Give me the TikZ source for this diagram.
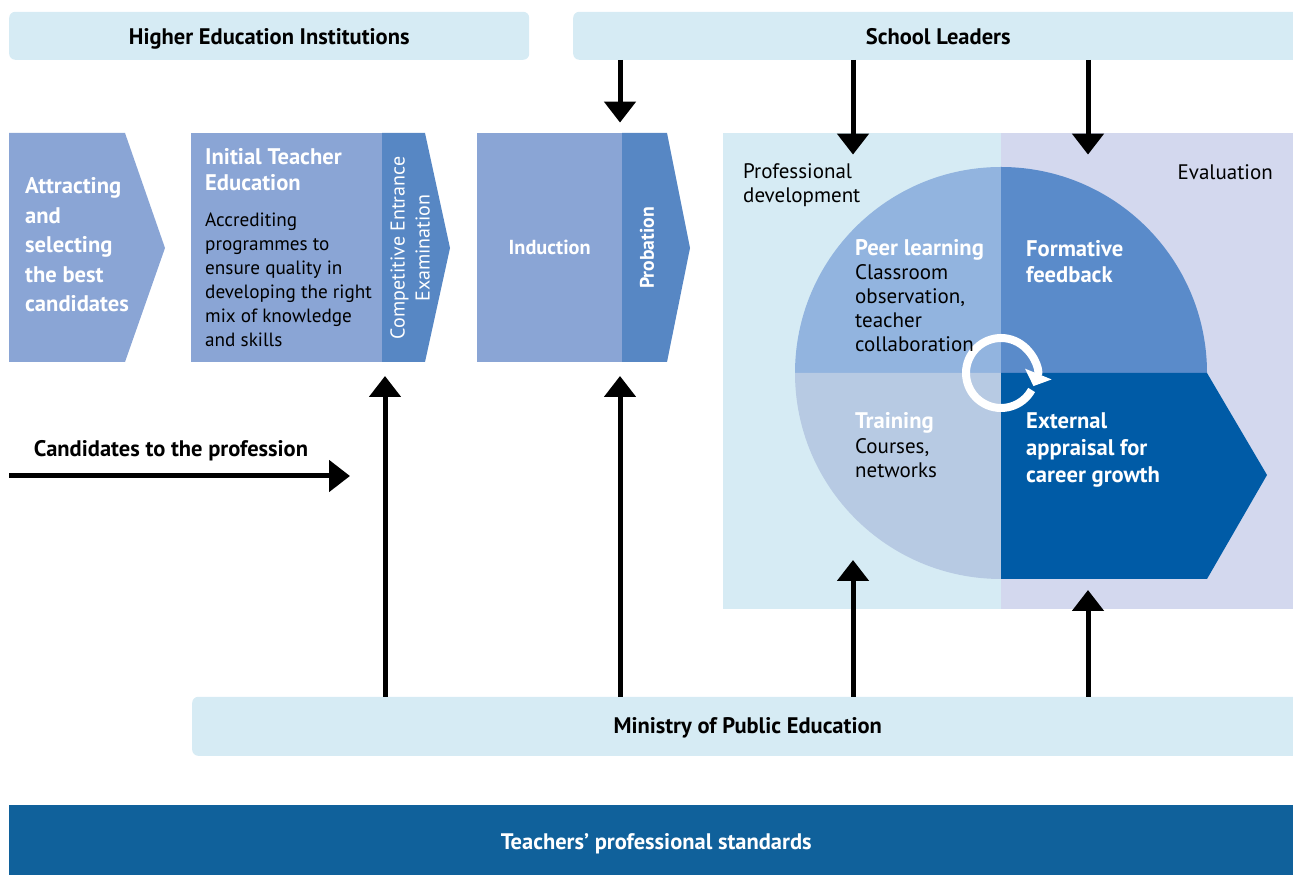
\documentclass[tikz,border=0pt]{standalone}
\usepackage{fontspec}
\setmainfont{PT Sans}
\usetikzlibrary{arrows.meta}
\definecolor{boxblue}{HTML}{D6EBF4}
\definecolor{lavender}{HTML}{D3D8EE}
\definecolor{chevron}{HTML}{8AA5D5}
\definecolor{strip}{HTML}{5787C4}
\definecolor{quadTL}{HTML}{92B4DF}
\definecolor{quadTR}{HTML}{5A8BCA}
\definecolor{quadBL}{HTML}{B7CAE3}
\definecolor{quadBR}{HTML}{005BA6}
\definecolor{stdbar}{HTML}{10619B}
\begin{document}
\begin{tikzpicture}[x=1pt,y=1pt,
  topbox/.style={fill=boxblue, rounded corners=6pt, inner sep=0pt, anchor=south west},
  panel/.style={inner sep=0pt, anchor=south west},
  arr/.style={line width=5pt, -{Triangle[width=31pt,length=21pt]}},
  boldlbl/.style={font=\bfseries\fontsize{22.5}{27}\selectfont, inner sep=0pt, anchor=base},
  wtitle/.style={text=white, inner sep=0pt, anchor=base west, align=left},
  btext/.style={text=black, inner sep=0pt, anchor=base west, align=left,
    font=\fontsize{21}{24}\selectfont},
]
\useasboundingbox (0,0) rectangle (1293,875);

% --- organisations along the top and bottom
\node[topbox, minimum width=520pt, minimum height=48pt] (hei) at (9,815) {};
\node[boldlbl] at (hei.center |- 0,830) {Higher Education Institutions};
\node[topbox, minimum width=730pt, minimum height=48pt] (sl) at (573,815) {};
\node[boldlbl] at (sl.center |- 0,830) {School Leaders};
\node[topbox, minimum width=1111pt, minimum height=59pt] (min) at (192,119) {};
\node[boldlbl] at (min.center |- 0,141) {Ministry of Public Education};
\node[fill=stdbar, inner sep=0pt, anchor=south west, minimum width=1294pt, minimum height=70pt] (std) at (9,0) {};
\node[boldlbl, text=white] at (std.center |- 0,25) {Teachers’ professional standards};

% --- evaluation panels
\node[panel, fill=boxblue, minimum width=278pt, minimum height=476pt] (pd) at (723,266) {};
\node[panel, fill=lavender, minimum width=292pt, minimum height=476pt] (ev) at (1001,266) {};

% --- pathway chevrons
\fill[chevron] (9,742) -- (125,742) -- (165,627) -- (125,513) -- (9,513) -- cycle;
\node[panel, fill=chevron, minimum width=191pt, minimum height=229pt] (ite) at (191,513) {};
\fill[strip] (382,742) -- (425,742) -- (450,627) -- (425,513) -- (382,513) -- cycle;
\node[panel, fill=chevron, minimum width=145pt, minimum height=229pt] (ind) at (477,513) {};
\fill[strip] (622,742) -- (667,742) -- (690,627) -- (667,513) -- (622,513) -- cycle;

% --- four-part cycle
\coordinate (cyc) at (1001,502);
\fill[quadTL] (cyc) -- ++(-206,0) arc[start angle=180, end angle=90, radius=206] -- cycle;
\fill[quadTR] (cyc) -- ++(0,206) arc[start angle=90, end angle=0, radius=206] -- cycle;
\fill[quadBL] (cyc) -- ++(0,-206) arc[start angle=270, end angle=180, radius=206] -- cycle;
\fill[quadBR] (cyc) -- (1207,502) -- (1267,400) -- (1207,296) -- (1001,296) -- cycle;
\draw[white, line width=8pt, -{Triangle[width=28pt,length=13pt]}]
  (cyc) ++(-29:35) arc[start angle=-29, end angle=-382, radius=35];

% --- texts in the chevrons
\node[wtitle, font=\bfseries\fontsize{22.6}{29.5}\selectfont] at (25,563)
  {Attracting\\and\\selecting\\the best\\candidates};
\node[wtitle, font=\bfseries\fontsize{22.6}{26}\selectfont] at (205,684)
  {Initial Teacher\\Education};
\node[btext, font=\fontsize{19.2}{24}\selectfont] at (205,528)
  {Accrediting\\programmes to\\ensure quality in\\developing the right\\mix of knowledge\\and skills};
\node[text=white, rotate=90, align=center, inner sep=0pt,
  font=\fontsize{20}{25}\selectfont] at (410,627) {Competitive Entrance\\Examination};
\node[text=white, font=\bfseries\fontsize{20.3}{24}\selectfont] at (ind.center) {Induction};
\node[text=white, rotate=90, inner sep=0pt, font=\bfseries\fontsize{19.7}{24}\selectfont]
  at (647,627) {Probation};

% --- texts in the panels
\node[btext] at (743,672) {Professional\\development};
\node[btext, anchor=base east] at (1273,695) {Evaluation};
\node[wtitle, font=\bfseries\fontsize{22.6}{26.5}\selectfont] at (855,619) {Peer learning};
\node[btext] at (855,523) {Classroom\\observation,\\teacher\\collaboration};
\node[wtitle, font=\bfseries\fontsize{22.6}{26.5}\selectfont] at (1026,592) {Formative\\feedback};
\node[wtitle, font=\bfseries\fontsize{22.6}{26.5}\selectfont] at (855,446) {Training};
\node[btext] at (855,397) {Courses,\\networks};
\node[wtitle, font=\bfseries\fontsize{22.6}{27}\selectfont] at (1026,392)
  {External\\appraisal for\\career growth};

% --- candidates entering the pathway
\coordinate (cstart) at (9,399);
\coordinate (cend) at (350,399);
\draw[arr] (cstart) -- (cend);
\node[boldlbl] at (171,418) {Candidates to the profession};

% --- influences from the organisations
\coordinate (xa) at (385,0);
\coordinate (xb) at (620,0);
\coordinate (xc) at (853,0);
\coordinate (xd) at (1088,0);
\draw[arr] (sl.south -| xb) -- ([yshift=10pt]ind.north -| xb);
\draw[arr] (sl.south -| xc) -- ([yshift=-22pt]pd.north -| xc);
\draw[arr] (sl.south -| xd) -- ([yshift=-22pt]ev.north -| xd);
\draw[arr] (min.north -| xa) -- ([yshift=-14pt]ite.south -| xa);
\draw[arr] (min.north -| xb) -- ([yshift=-14pt]ind.south -| xb);
\draw[arr] (min.north -| xc) -- ([yshift=49pt]pd.south -| xc);
\draw[arr] (min.north -| xd) -- ([yshift=19pt]ev.south -| xd);
\end{tikzpicture}
\end{document}
